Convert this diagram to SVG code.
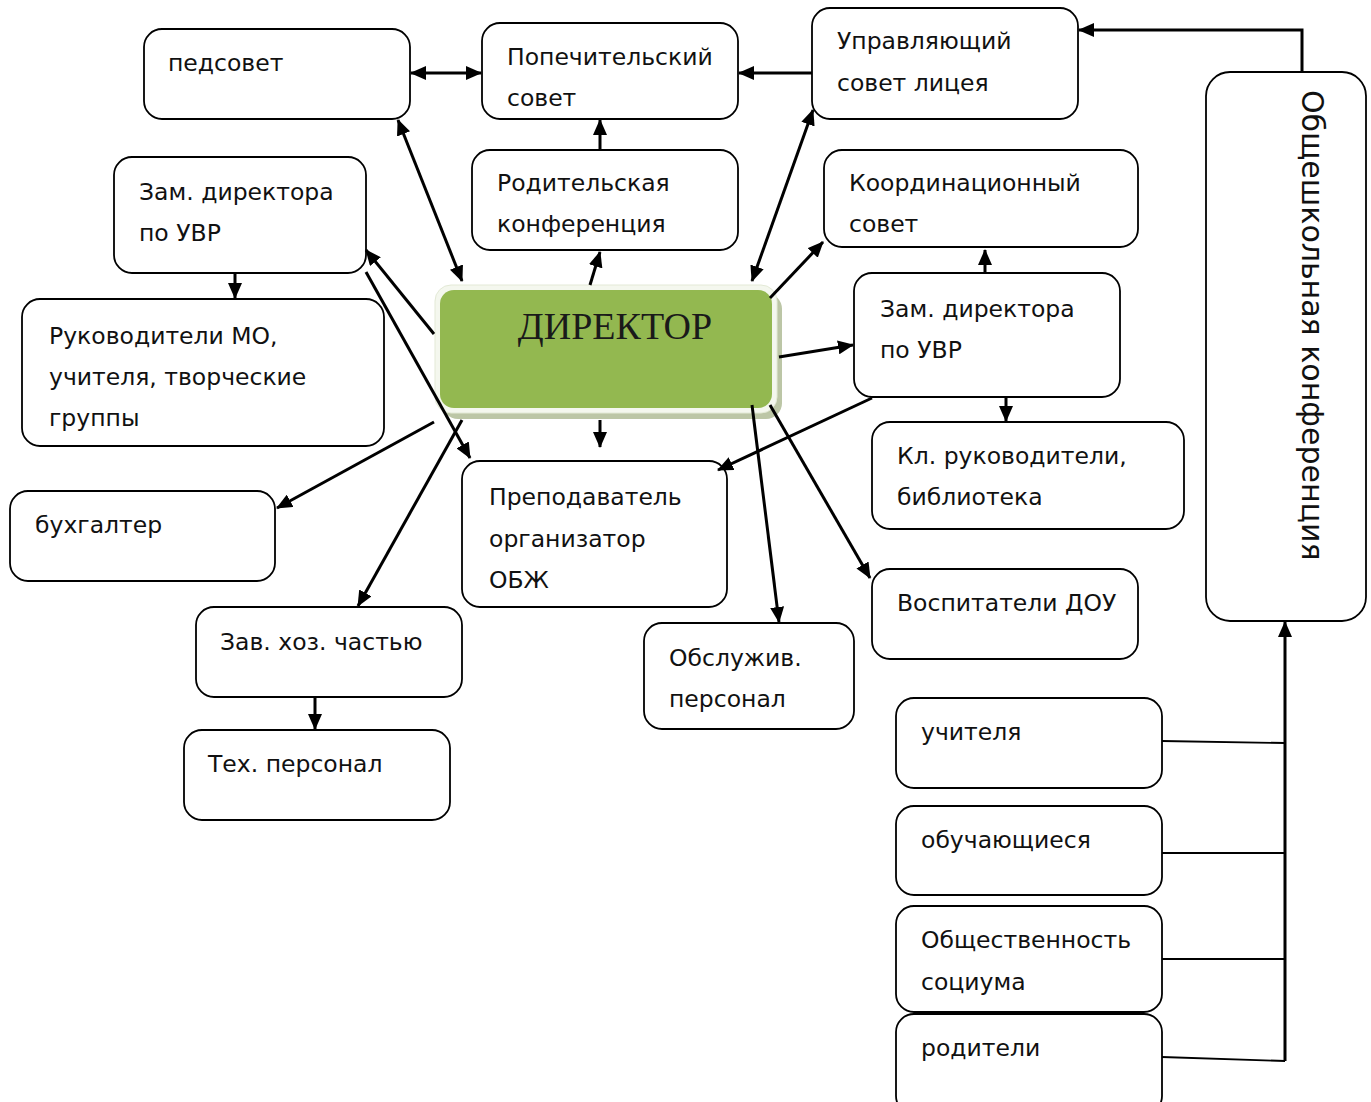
<svg xmlns="http://www.w3.org/2000/svg" width="1371" height="1102" viewBox="0 0 1371 1102">
<defs>
<marker id="ah" markerUnits="userSpaceOnUse" markerWidth="16" markerHeight="14" refX="15" refY="7" orient="auto-start-reverse"><path d="M0,0 L16,7 L0,14 z" fill="#000"/></marker>
<style>
.box{fill:#fff;stroke:#000;stroke-width:1.8}
.t{font-family:"DejaVu Sans",Verdana,sans-serif;font-size:23.5px;fill:#111}
.c{fill:none;stroke:#000;stroke-width:3}
.a{marker-end:url(#ah)}
.b{marker-start:url(#ah);marker-end:url(#ah)}
.thin{fill:none;stroke:#000;stroke-width:1.8}
</style>
</defs>
<rect width="1371" height="1102" fill="#fff"/>
<g id="n-pedsovet"><rect class="box" x="144" y="29" width="266" height="90" rx="18"/><text class="t" x="168" y="71">педсовет</text></g>
<g id="n-popech"><rect class="box" x="482" y="23" width="256" height="96" rx="18"/><text class="t" x="507" y="65">Попечительский</text><text class="t" x="507" y="106">совет</text></g>
<g id="n-upravl"><rect class="box" x="812" y="8" width="266" height="111" rx="18"/><text class="t" x="837" y="49">Управляющий</text><text class="t" x="837" y="91">совет лицея</text></g>
<g id="n-zam-left"><rect class="box" x="114" y="157" width="252" height="116" rx="18"/><text class="t" x="139" y="200">Зам. директора</text><text class="t" x="139" y="241">по УВР</text></g>
<g id="n-rodit"><rect class="box" x="472" y="150" width="266" height="100" rx="18"/><text class="t" x="497" y="191">Родительская</text><text class="t" x="497" y="232">конференция</text></g>
<g id="n-koord"><rect class="box" x="824" y="150" width="314" height="97" rx="18"/><text class="t" x="849" y="191">Координационный</text><text class="t" x="849" y="232">совет</text></g>
<g id="n-ruk"><rect class="box" x="22" y="299" width="362" height="147" rx="18"/><text class="t" x="49" y="344">Руководители МО,</text><text class="t" x="49" y="385">учителя, творческие</text><text class="t" x="49" y="426">группы</text></g>
<g id="n-zam-right"><rect class="box" x="854" y="273" width="266" height="124" rx="18"/><text class="t" x="880" y="317">Зам. директора</text><text class="t" x="880" y="358">по УВР</text></g>
<g id="n-kl"><rect class="box" x="872" y="422" width="312" height="107" rx="18"/><text class="t" x="897" y="464">Кл. руководители,</text><text class="t" x="897" y="505">библиотека</text></g>
<g id="n-buh"><rect class="box" x="10" y="491" width="265" height="90" rx="18"/><text class="t" x="35" y="533">бухгалтер</text></g>
<g id="n-prep"><rect class="box" x="462" y="461" width="265" height="146" rx="18"/><text class="t" x="489" y="505">Преподаватель</text><text class="t" x="489" y="547">организатор</text><text class="t" x="489" y="588">ОБЖ</text></g>
<g id="n-vosp"><rect class="box" x="872" y="569" width="266" height="90" rx="18"/><text class="t" x="897" y="611">Воспитатели ДОУ</text></g>
<g id="n-zavhoz"><rect class="box" x="196" y="607" width="266" height="90" rx="18"/><text class="t" x="220" y="650">Зав. хоз. частью</text></g>
<g id="n-obsl"><rect class="box" x="644" y="623" width="210" height="106" rx="18"/><text class="t" x="669" y="666">Обслужив.</text><text class="t" x="669" y="707">персонал</text></g>
<g id="n-teh"><rect class="box" x="184" y="730" width="266" height="90" rx="18"/><text class="t" x="208" y="772">Тех. персонал</text></g>
<g id="n-uchit"><rect class="box" x="896" y="698" width="266" height="90" rx="18"/><text class="t" x="921" y="740">учителя</text></g>
<g id="n-obuch"><rect class="box" x="896" y="806" width="266" height="89" rx="18"/><text class="t" x="921" y="848">обучающиеся</text></g>
<g id="n-obsh"><rect class="box" x="896" y="906" width="266" height="106" rx="18"/><text class="t" x="921" y="948">Общественность</text><text class="t" x="921" y="990">социума</text></g>
<g id="n-rodi"><rect class="box" x="896" y="1014" width="266" height="100" rx="18"/><text class="t" x="921" y="1056">родители</text></g>
<g id="n-konf"><rect class="box" x="1206" y="72" width="160" height="549" rx="24"/><text font-family="DejaVu Sans,Verdana,sans-serif" font-size="30" fill="#111" transform="translate(1302,90) rotate(90)">Общешкольная конференция</text></g>
<g id="n-director">
<rect x="442" y="293" width="340" height="126" rx="16" fill="#bcc6a6"/>
<rect x="435" y="285" width="342" height="128" rx="16" fill="#f4f7ee" stroke="#e3e9d6" stroke-width="1"/>
<rect x="440" y="290" width="332" height="118" rx="14" fill="#93b850"/>
<text x="615" y="339" font-family="Liberation Serif,Times New Roman,serif" font-size="38" text-anchor="middle" fill="#1a1a1a">ДИРЕКТОР</text>
</g>
<g id="connectors">
<path class="c b" d="M411,73 L481,73"/>
<path class="c a" d="M812,73 L739,73"/>
<path class="c a" d="M1302,72 L1302,30 L1079,30" stroke-width="2.5"/>
<path class="c a" d="M600,150 L600,120"/>
<path class="c a" d="M590,285 L600,252"/>
<path class="c b" d="M462,281 L398,120"/>
<path class="c b" d="M752,281 L813,110"/>
<path class="c a" d="M770,298 L823,242"/>
<path class="c a" d="M985,272 L985,250"/>
<path class="c a" d="M779,357 L853,345"/>
<path class="c a" d="M1006,398 L1006,421"/>
<path class="c a" d="M872,398 L718,470"/>
<path class="c a" d="M752,405 L779,622"/>
<path class="c a" d="M770,405 L870,578"/>
<path class="c a" d="M600,420 L600,447"/>
<path class="c a" d="M434,334 L366,250"/>
<path class="c a" d="M366,272 L470,458"/>
<path class="c a" d="M235,273 L235,298"/>
<path class="c a" d="M434,422 L277,508"/>
<path class="c a" d="M462,420 L358,606"/>
<path class="c a" d="M315,697 L315,729"/>
<path class="c a" d="M1285,1061 L1285,622" stroke-width="2.5"/>
<path class="thin" d="M1162,741 L1285,743"/>
<path class="thin" d="M1162,853 L1285,853"/>
<path class="thin" d="M1162,959 L1285,959"/>
<path class="thin" d="M1162,1057 L1285,1061"/>
</g>
</svg>
